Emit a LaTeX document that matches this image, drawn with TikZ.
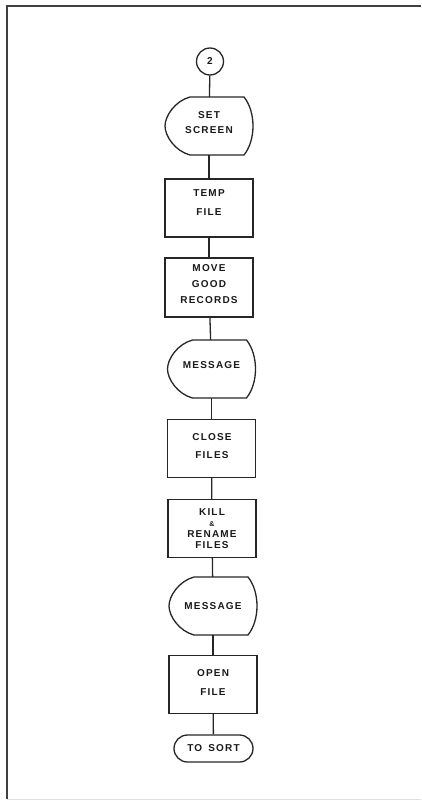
\documentclass[tikz,border=0pt]{standalone}
\usepackage{fontspec}
\newfontfamily\lblfont[LetterSpace=12]{Liberation Sans}
\newcommand\lsz[1]{\fontsize{10}{#1}\selectfont}
\newcommand\dispout[1]{\draw[ink, shift={(#1.center)}] (-19,-29) -- (35,-29) .. controls (47,-14) and (47,14) .. (35,29) -- (-19,29) .. controls (-34,25) and (-44,10) .. (-44,0) .. controls (-44,-10) and (-34,-25) .. (-19,-29) -- cycle;}
\begin{document}
\begin{tikzpicture}[x=1pt,y=-1pt,
  ink/.style={draw=black!85, line width=1.3pt},
  box/.style={ink, rectangle, minimum width=88pt, minimum height=58pt, inner sep=0pt},
  disp/.style={rectangle, minimum width=88pt, minimum height=58pt, inner sep=0pt},
  txt/.style={font=\lblfont\bfseries\lsz{19}, text=black!90, align=center, inner sep=0pt},
  link/.style={ink}]
\useasboundingbox (0,0) rectangle (421,801);
% frame
\draw[draw=black!75, line width=2pt] (421,6) -- (7,6) -- (7,799);
\draw[draw=black!12, line width=1pt] (7,799) -- (421,799);
% shapes
\node[ink, circle, minimum size=27pt, inner sep=0pt, font=\lblfont\bfseries\fontsize{10}{10}\selectfont, text=black!90] (c2) at (210,61.5) {2};
\node[disp] (s1) at (209,126) {};
\node[box] (b1) at (209,208) {};
\node[box, minimum height=59pt] (b2) at (209,287.5) {};
\node[disp] (m1) at (211.5,369) {};
\node[box] (b3) at (211.5,448.5) {};
\node[box] (b4) at (212,528.5) {};
\node[disp] (m2) at (213,606) {};
\node[box] (b5) at (213,684.5) {};
\node[ink, rectangle, rounded corners=13.5pt, minimum width=79pt, minimum height=27pt, inner sep=0pt] (t1) at (213.5,748.5) {};
\dispout{s1}
\dispout{m1}
\dispout{m2}
% texts
\node[txt, font=\lblfont\bfseries\lsz{15}] (x1) at (209,122.5) {SET\\SCREEN};
\node[txt] (x2) at (209,203) {TEMP\\FILE};
\node[txt, font=\lblfont\bfseries\lsz{16}] (x3) at (209,284) {MOVE\\GOOD\\RECORDS};
\node[txt] (x4) at (211.5,365.5) {MESSAGE};
\node[txt, font=\lblfont\bfseries\lsz{18}] (x5) at (212,446) {CLOSE\\FILES};
\node[txt, font=\lblfont\bfseries\lsz{11}] (x6) at (212,528.5) {KILL\\{\fontsize{7}{7}\selectfont\&}\\RENAME\\FILES};
\node[txt] (x7) at (213,606) {MESSAGE};
\node[txt] (x8) at (213,682.5) {OPEN\\FILE};
\node[txt] (x9) at (213.5,748.5) {TO\hspace{6pt}SORT};
% connectors
\draw[link] (c2) -- (s1);
\draw[link] (s1) -- (b1);
\draw[link] (b1) -- (b2);
\draw[link] (b2) -- (m1);
\draw[link] (m1) -- (b3);
\draw[link] (b3) -- (b4);
\draw[link] (b4) -- (m2);
\draw[link] (m2) -- (b5);
\draw[link] (b5) -- (t1);
\end{tikzpicture}
\end{document}
